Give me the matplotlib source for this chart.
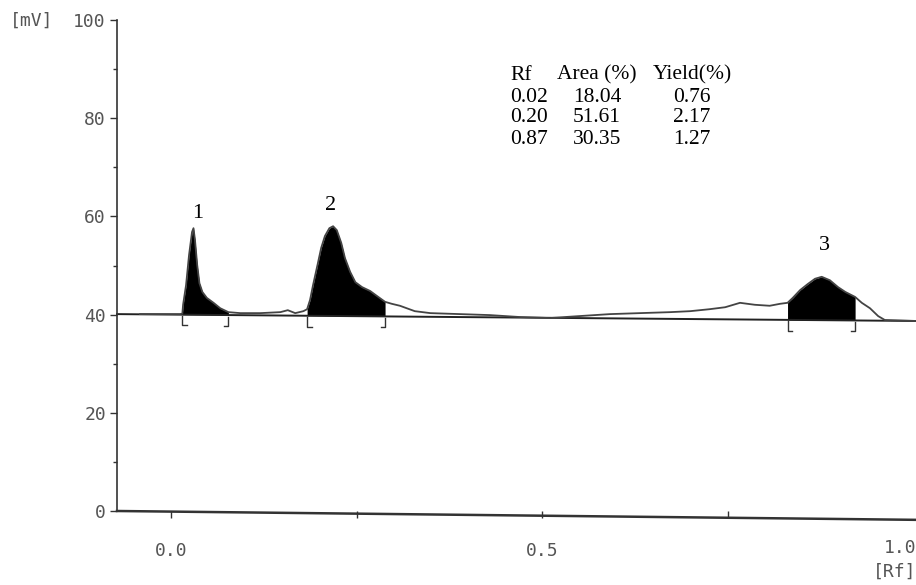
import numpy as np
import matplotlib

matplotlib.use("Agg")
import matplotlib.pyplot as plt

# densitogram trace (Rf, mV)
rf = [-0.042, 0.012, 0.015, 0.016, 0.020, 0.024, 0.028, 0.030, 0.032, 0.035,
      0.038, 0.042, 0.048, 0.057, 0.066, 0.077, 0.093, 0.120, 0.147, 0.157,
      0.167, 0.178, 0.183, 0.187, 0.191, 0.197, 0.202, 0.207, 0.213, 0.218,
      0.223, 0.229, 0.234, 0.241, 0.248, 0.257, 0.268, 0.277, 0.288, 0.297,
      0.308, 0.328, 0.349, 0.389, 0.429, 0.470, 0.510, 0.550, 0.591, 0.631,
      0.672, 0.699, 0.725, 0.746, 0.766, 0.786, 0.806, 0.820, 0.830, 0.837,
      0.847, 0.857, 0.867, 0.876, 0.887, 0.898, 0.908, 0.921, 0.930, 0.941,
      0.952, 0.961, 1.003]
mv = [40.1, 40.1, 40.2, 42.0, 46.0, 52.1, 56.8, 57.6, 55.2, 50.1,
      46.4, 44.6, 43.4, 42.4, 41.3, 40.5, 40.3, 40.3, 40.5, 40.9,
      40.3, 40.7, 41.1, 43.0, 46.0, 50.1, 53.6, 56.0, 57.6, 58.0,
      57.2, 54.6, 51.5, 48.7, 46.6, 45.6, 44.8, 43.8, 42.6, 42.2,
      41.8, 40.7, 40.3, 40.1, 39.9, 39.5, 39.3, 39.7, 40.1, 40.3,
      40.5, 40.7, 41.1, 41.5, 42.4, 42.0, 41.8, 42.2, 42.4, 43.4,
      45.0, 46.2, 47.3, 47.7, 47.0, 45.6, 44.6, 43.6, 42.4, 41.3,
      39.7, 38.9, 38.7]

# baseline end points
base_rf = [-0.073, 1.003]
base_mv = [40.1, 38.7]

# integrated peaks
peak_ids = ["1", "2", "3"]
peak_start = [0.015, 0.183, 0.830]
peak_end = [0.077, 0.288, 0.921]
peak_top_rf = [0.036, 0.215, 0.880]
peak_top_mv = [58.6, 60.2, 52.2]

# result table
tab_rf = ["0.02", "0.20", "0.87"]
tab_area = ["18.04", "51.61", "30.35"]
tab_yield = ["0.76", "2.17", "1.27"]

rf = np.array(rf)
mv = np.array(mv)
base = np.interp(rf, base_rf, base_mv)

mono = "DejaVu Sans Mono"
serif = "Liberation Serif"
grey = "#555555"

fig = plt.figure(figsize=(9.16, 5.85), dpi=100)
ax = fig.add_axes([117 / 916, 74 / 585, 799 / 916, 491 / 585])
ax.set_xlim(base_rf[0], base_rf[1])
ax.set_ylim(0, 100)

for s in ["top", "right", "bottom"]:
    ax.spines[s].set_visible(False)
ax.spines["left"].set_color("#333333")
ax.spines["left"].set_linewidth(1.2)

# slightly slanted x axis line, as on the printout
ax.plot(base_rf, [0.0, -1.8], color="#333333", lw=1.8, clip_on=False)

# baseline and trace
ax.plot(base_rf, base_mv, color="#222222", lw=1.4, clip_on=False)
ax.plot(rf, mv, color="#444444", lw=1.3)

for a, b in zip(peak_start, peak_end):
    m = (rf >= a - 1e-9) & (rf <= b + 1e-9)
    ax.fill_between(rf, base, mv, where=m, color="black", lw=0)
    # integration marks below the baseline
    for x, d in ((a, 0.006), (b, -0.006)):
        y0 = np.interp(x, base_rf, base_mv)
        ax.plot([x, x, x + d], [y0 - 0.3, y0 - 2.2, y0 - 2.2],
                color="#333333", lw=1.0)

for lab, x, y in zip(peak_ids, peak_top_rf, peak_top_mv):
    ax.text(x, y, lab, family=serif, fontsize=16, ha="center", va="bottom")

# ticks
ax.set_yticks([0, 20, 40, 60, 80, 100])
ax.set_yticklabels(["0", "20", "40", "60", "80", "100"])
ax.set_yticks([10, 30, 50, 70, 90], minor=True)
ax.tick_params(axis="y", which="major", length=5, width=1, pad=3,
               labelsize=13, labelcolor=grey, color="#333333")
ax.tick_params(axis="y", which="minor", length=3, width=1, color="#333333")
for t in ax.get_yticklabels():
    t.set_family(mono)
fig.text(10 / 916, 1 - 21 / 585, "[mV]", family=mono, fontsize=13,
         color=grey, ha="left", va="center")

ax.set_xticks([0.0, 0.25, 0.5, 0.75])
ax.set_xticklabels(["0.0", "", "0.5", ""])
ax.tick_params(axis="x", length=5, width=1, pad=17, labelsize=13,
               labelcolor=grey, color="#333333", direction="out")
for t in ax.get_xticklabels():
    t.set_family(mono)
fig.text(1.0, 1 - 548 / 585, "1.0", family=mono, fontsize=13, color=grey,
         ha="right", va="center")
fig.text(1.0, 1 - 572 / 585, "[Rf]", family=mono, fontsize=13, color=grey,
         ha="right", va="center")

# table
cols_x = [510, 597, 692]
row_y = [75, 97, 118, 139]
fx = lambda px: px / 916
fy = lambda py: 1 - py / 585
fs = 15.5
fig.text(fx(cols_x[0]), fy(row_y[0]), "Rf", family=serif, fontsize=fs,
         ha="left", va="center")
fig.text(fx(cols_x[1]), fy(row_y[0]), "Area (%)", family=serif,
         fontsize=fs, ha="center", va="center")
fig.text(fx(cols_x[2]), fy(row_y[0]), "Yield(%)", family=serif,
         fontsize=fs, ha="center", va="center")
for i in range(3):
    y = fy(row_y[i + 1])
    fig.text(fx(cols_x[0]), y, tab_rf[i], family=serif, fontsize=fs,
             ha="left", va="center")
    fig.text(fx(cols_x[1]), y, tab_area[i], family=serif, fontsize=fs,
             ha="center", va="center")
    fig.text(fx(cols_x[2]), y, tab_yield[i], family=serif, fontsize=fs,
             ha="center", va="center")

fig.savefig("out.png", dpi=100)
